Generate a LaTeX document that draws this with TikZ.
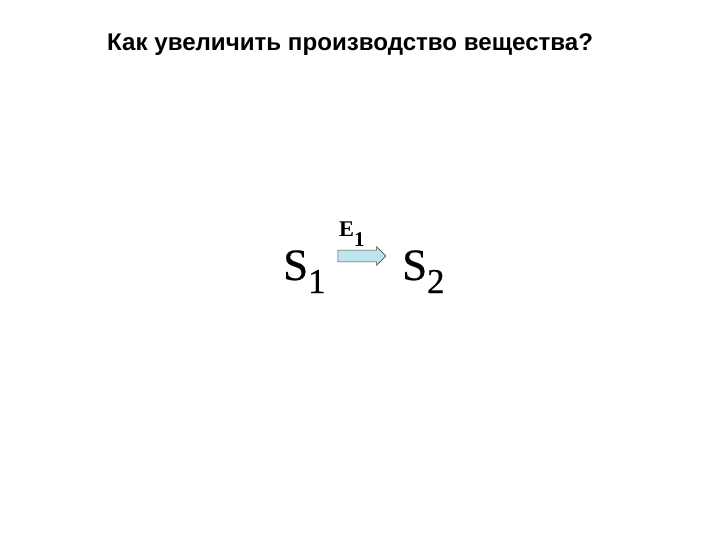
\documentclass[tikz,border=0pt]{standalone}
\usepackage{fontspec}
\setmainfont{Liberation Serif}
\newfontfamily\titlefont{Liberation Sans}
\newfontface\speciesfont[FakeBold=0.5]{Liberation Serif}
\usetikzlibrary{positioning}
\usetikzlibrary{shapes.arrows}

\definecolor{arrowfill}{RGB}{190,228,236}
\definecolor{arrowline}{RGB}{80,80,80}

\begin{document}
\begin{tikzpicture}[x=1bp, y=-1bp]

\def\SubDrop{13bp}
\def\ArrowLength{48bp}
\def\ShaftWidth{11bp}

% Styles
\tikzstyle{title} =
	[font=\titlefont\bfseries\fontsize{24.2}{24.2}\selectfont, inner sep=0pt, anchor=base west]

\tikzstyle{species} =
	[font=\speciesfont\fontsize{45}{45}\selectfont, inner sep=0pt, anchor=base west]

\tikzstyle{enzyme} =
	[font=\bfseries\fontsize{22.5}{22.5}\selectfont, inner sep=0pt, anchor=base west]

\tikzstyle{reaction} =
	[single arrow, draw=arrowline, fill=arrowfill, line width=0.6bp,
	minimum height=\ArrowLength, text height=\ShaftWidth, text depth=0pt,
	single arrow head extend=3.5bp, single arrow head indent=0pt, inner sep=0pt]

\useasboundingbox (0,0) rectangle (720,540);

% Title
\node (Question) at (107,51) [title] {Как увеличить производство вещества?};

% Substrates
\node (S1) at (283,280) [species]
	{S{\fontsize{35}{35}\selectfont\raisebox{-\SubDrop}{1}}};
\node (S2) at (402,280) [species]
	{S{\fontsize{35}{35}\selectfont\raisebox{-\SubDrop}{2}}};

% Reaction
\node (Step) at (359,256) [reaction] {};
\node (E1) at (339,237) [enzyme]
	{E{\fontsize{21}{21}\selectfont\raisebox{-10bp}{1}}};

\end{tikzpicture}
\end{document}
